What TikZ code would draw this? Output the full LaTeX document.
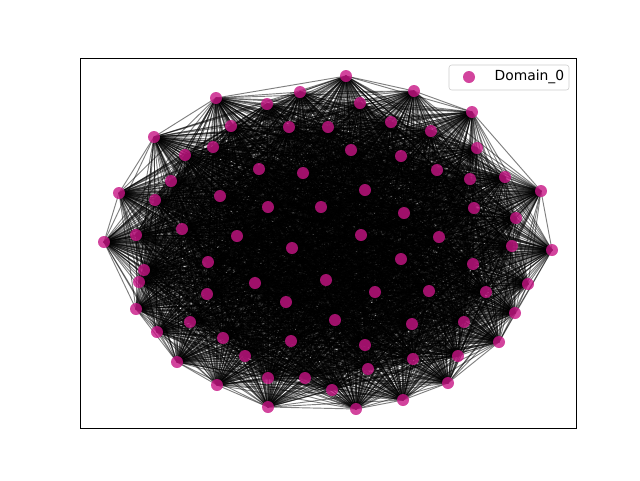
\documentclass[tikz,border=0pt]{standalone}
\usepackage{fontspec}
\setmainfont{DejaVu Sans}
\usetikzlibrary{positioning}
\pgfdeclarelayer{edges}
\pgfsetlayers{edges,main}
\definecolor{domainpink}{RGB}{199,21,133}

\begin{document}
\begin{tikzpicture}[x=0.75pt,y=0.75pt,yscale=-1,xscale=1,
	vertex/.style={circle,fill=domainpink,fill opacity=0.8,inner sep=0pt,minimum size=9pt},
	link/.style={draw=black,draw opacity=0.5,line width=0.7pt},
	legendbox/.style={draw=black!20,rounded corners=2pt,fill=white,fill opacity=0.8,inner sep=0pt,minimum width=90pt,minimum height=18.75pt}]
	\useasboundingbox (0,0) rectangle (640,480);
	
	%Axes frame
	\draw [line width=0.75pt] (80,58) rectangle (576,428);
	
	%Graph nodes
	\foreach \x/\y [count=\i] in {346/76, 414/91, 472/112, 431/131, 477/148, 391/122, 360/103, 300/92,
		267/104, 216/98, 231/126, 154/137, 213/147, 185/155, 171/181, 119/193,
		155/200, 220/196, 182/229, 136/235, 104/242, 237/236, 289/127, 328/127,
		351/150, 401/156, 259/169, 303/173, 365/190, 268/207, 321/207, 404/213,
		361/235, 292/248, 437/170, 470/179, 505/177, 541/191, 474/208, 516/218,
		439/237, 512/246, 552/250, 208/262, 144/270, 139/282, 207/294, 136/309,
		190/322, 157/332, 223/338, 245/356, 177/362, 217/385, 401/259, 255/283,
		326/280, 375/292, 286/302, 335/320, 412/324, 291/341, 365/345, 368/369,
		268/378, 305/378, 332/390, 268/407, 356/409, 403/400, 473/264, 528/284,
		429/291, 486/292, 515/313, 464/322, 499/342, 413/359, 458/356, 448/383}
	\node [vertex] (n\i) at (\x,\y) {};
	
	%Edges (every pair)
	\begin{pgfonlayer}{edges}
		\foreach \i in {1,...,79}{
			\pgfmathtruncatemacro{\k}{\i+1}
			\foreach \j in {\k,...,80}
			\draw [link] (n\i.center) -- (n\j.center);
		}
	\end{pgfonlayer}
	
	%Legend
	\node [legendbox] (legend) at (509,77.5) {};
	\node [vertex] (key) at (469,77) {};
	% Text Node
	\node [right=14.3pt of key,inner sep=0pt,font=\fontsize{10.4}{12}\selectfont] (keytext) {Domain\_0};
\end{tikzpicture}
\end{document}
